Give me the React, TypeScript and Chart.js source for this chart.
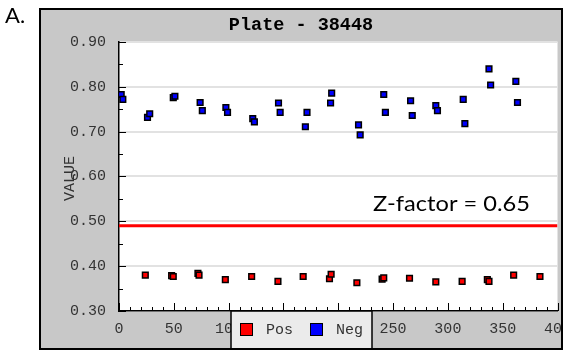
import React, { useEffect, useRef } from "react";
import { Chart, registerables } from "chart.js";

Chart.register(...registerables);

// ---- data ----
const POS_X = [24, 48, 49.5, 72, 73, 97, 121, 145, 168, 192, 193.5, 217, 240, 241.5, 265, 289, 313, 336, 337.5, 360, 384];
const POS_Y = [0.38, 0.379, 0.377, 0.384, 0.38, 0.37, 0.377, 0.366, 0.377, 0.372, 0.382, 0.363, 0.371, 0.374, 0.373, 0.365, 0.366, 0.37, 0.366, 0.38, 0.377];

const NEG_X = [2, 3.5, 26, 28, 49.5, 51, 74, 76, 97.5, 99, 122, 123.5, 145.5, 147, 170, 171.5, 193, 194, 218.5, 220, 241.5, 243, 266, 267.5, 289, 290.5, 314, 315.5, 337.5, 339, 362, 363.5];
const NEG_Y = [0.783, 0.772, 0.732, 0.74, 0.776, 0.779, 0.765, 0.747, 0.754, 0.743, 0.729, 0.722, 0.764, 0.743, 0.711, 0.743, 0.764, 0.786, 0.715, 0.693, 0.783, 0.743, 0.769, 0.736, 0.758, 0.747, 0.772, 0.718, 0.84, 0.804, 0.812, 0.765];

const Z_LINE_X = [0, 400];
const Z_LINE_Y = [0.49, 0.49];

const SERIES_NAMES = ["Pos", "Neg"];
const SERIES_COLORS = ["#ff0000", "#0000ff"];
const TITLE = "Plate - 38448";
const Y_TITLE = "VALUE";
const PANEL_LABEL = "A.";
const Z_LABEL = "Z-factor = 0.65";

const X_MIN = 0;
const X_MAX = 400;
const X_STEP = 50;
const X_MINOR_DIV = 5;
const Y_MIN = 0.3;
const Y_MAX = 0.9;
const Y_STEP = 0.1;
const Y_MINOR_DIV = 2;

const toPoints = (xs: number[], ys: number[]) => xs.map((x, i) => ({ x, y: ys[i] }));

const MONO = '"Liberation Mono", "DejaVu Sans Mono", monospace';

const decorPlugin = {
  id: "decor",
  beforeDraw(chart: any) {
    const { ctx, chartArea: ca, width, height } = chart;
    ctx.save();
    ctx.fillStyle = "#ffffff";
    ctx.fillRect(0, 0, width, height);
    ctx.fillStyle = "#c8c8c8";
    ctx.fillRect(39, 8, width - 39, 342);
    ctx.fillStyle = "#ffffff";
    ctx.fillRect(ca.left, ca.top, ca.right - ca.left, ca.bottom - ca.top);
    ctx.restore();
  },
  afterDraw(chart: any) {
    const { ctx, chartArea: ca } = chart;
    const xs = chart.scales.x;
    const ys = chart.scales.y;
    ctx.save();

    // tick marks (inward)
    ctx.strokeStyle = "#000";
    ctx.lineWidth = 1;
    const yt = ys.ticks.map((t: any) => t.value);
    ctx.beginPath();
    yt.forEach((v: number, i: number) => {
      const py = Math.round(ys.getPixelForValue(v)) + 0.5;
      ctx.moveTo(ca.left, py);
      ctx.lineTo(ca.left + 7, py);
      if (i < yt.length - 1) {
        for (let k = 1; k < Y_MINOR_DIV; k++) {
          const mv = v + ((yt[i + 1] - v) * k) / Y_MINOR_DIV;
          const my = Math.round(ys.getPixelForValue(mv)) + 0.5;
          ctx.moveTo(ca.left, my);
          ctx.lineTo(ca.left + 4, my);
        }
      }
    });
    const xt = xs.ticks.map((t: any) => t.value);
    xt.forEach((v: number, i: number) => {
      const px = Math.round(xs.getPixelForValue(v)) + 0.5;
      ctx.moveTo(px, ca.bottom);
      ctx.lineTo(px, ca.bottom - 8);
      if (i < xt.length - 1) {
        for (let k = 1; k < X_MINOR_DIV; k++) {
          const mv = v + ((xt[i + 1] - v) * k) / X_MINOR_DIV;
          const mx = Math.round(xs.getPixelForValue(mv)) + 0.5;
          ctx.moveTo(mx, ca.bottom);
          ctx.lineTo(mx, ca.bottom - 4);
        }
      }
    });
    ctx.stroke();

    // tick labels
    ctx.fillStyle = "#333";
    ctx.font = "15px " + MONO;
    ctx.textAlign = "right";
    ctx.textBaseline = "middle";
    yt.forEach((v: number) => {
      ctx.fillText(v.toFixed(2), 106, ys.getPixelForValue(v));
    });
    ctx.textAlign = "center";
    xt.forEach((v: number) => {
      ctx.fillText(String(v), xs.getPixelForValue(v), 329);
    });

    // y title
    ctx.save();
    ctx.translate(70.5, (ca.top + ca.bottom) / 2 + 2);
    ctx.rotate(-Math.PI / 2);
    ctx.textAlign = "center";
    ctx.textBaseline = "middle";
    ctx.fillText(Y_TITLE, 0, 0);
    ctx.restore();

    // title
    ctx.fillStyle = "#000";
    ctx.font = "bold 18.5px " + MONO;
    ctx.textAlign = "center";
    ctx.textBaseline = "middle";
    ctx.fillText(TITLE, 301, 25);

    // legend
    ctx.fillStyle = "#ebebeb";
    ctx.fillRect(231, 311, 141, 38);
    ctx.strokeStyle = "#000";
    ctx.lineWidth = 1.5;
    ctx.strokeRect(231, 311, 141, 38);
    const items = [
      { sx: 240, tx: 266 },
      { sx: 310, tx: 336 },
    ];
    ctx.font = "15px " + MONO;
    ctx.textAlign = "left";
    ctx.textBaseline = "middle";
    items.forEach((it, i) => {
      ctx.fillStyle = SERIES_COLORS[i];
      ctx.fillRect(it.sx, 323, 13, 13);
      ctx.lineWidth = 1;
      ctx.strokeStyle = "#000";
      ctx.strokeRect(it.sx + 0.5, 323.5, 12, 12);
      ctx.fillStyle = "#333";
      ctx.fillText(SERIES_NAMES[i], it.tx, 330);
    });

    // frame
    ctx.strokeStyle = "#000";
    ctx.lineWidth = 2;
    ctx.strokeRect(40, 9, 522, 340);

    // panel label
    ctx.fillStyle = "#000";
    ctx.font = '22px Lato, "Liberation Sans", sans-serif';
    ctx.textAlign = "left";
    ctx.textBaseline = "alphabetic";
    ctx.fillText(PANEL_LABEL, 5, 23);

    // z-factor annotation
    const zw = ctx.measureText(Z_LABEL).width;
    ctx.save();
    ctx.translate(373, 210.5);
    ctx.scale(157 / zw, 1);
    ctx.fillText(Z_LABEL, 0, 0);
    ctx.restore();

    ctx.restore();
  },
};

export default function App() {
  const ref = useRef<HTMLCanvasElement | null>(null);
  useEffect(() => {
    if (!ref.current) return;
    const chart = new Chart(ref.current, {
      type: "scatter",
      data: {
        datasets: [
          {
            label: "Z",
            data: toPoints(Z_LINE_X, Z_LINE_Y),
            showLine: true,
            borderColor: "#ff0000",
            borderWidth: 3,
            pointRadius: 0,
            fill: false,
          } as any,
          {
            label: SERIES_NAMES[0],
            data: toPoints(POS_X, POS_Y),
            pointStyle: "rect",
            pointRadius: 4,
            backgroundColor: SERIES_COLORS[0],
            borderColor: "#000",
            borderWidth: 1.5,
          },
          {
            label: SERIES_NAMES[1],
            data: toPoints(NEG_X, NEG_Y),
            pointStyle: "rect",
            pointRadius: 4,
            backgroundColor: SERIES_COLORS[1],
            borderColor: "#000",
            borderWidth: 1.5,
          },
        ],
      },
      options: {
        responsive: false,
        animation: false,
        events: [],
        layout: { padding: { left: 0, top: 42, right: 5, bottom: 0 } },
        plugins: {
          legend: { display: false },
          title: { display: false },
          tooltip: { enabled: false },
        },
        scales: {
          x: {
            type: "linear",
            min: X_MIN,
            max: X_MAX,
            ticks: { stepSize: X_STEP, display: false },
            grid: { drawOnChartArea: false, drawTicks: false },
            border: { display: true, color: "#000", width: 1.5 },
            afterFit: (s: any) => {
              s.height = 43;
            },
          },
          y: {
            type: "linear",
            min: Y_MIN,
            max: Y_MAX,
            ticks: { stepSize: Y_STEP, display: false },
            grid: { color: "#e2e2e2", lineWidth: 2, drawTicks: false },
            border: { display: true, color: "#000", width: 1.5 },
            afterFit: (s: any) => {
              s.width = 119;
            },
          },
        },
      },
      plugins: [decorPlugin],
    });
    return () => chart.destroy();
  }, []);
  return (
    <div style={{ position: "absolute", left: 0, top: 0, width: 563, height: 354 }}>
      <canvas ref={ref} width={563} height={354} style={{ width: 563, height: 354, display: "block" }} />
    </div>
  );
}
